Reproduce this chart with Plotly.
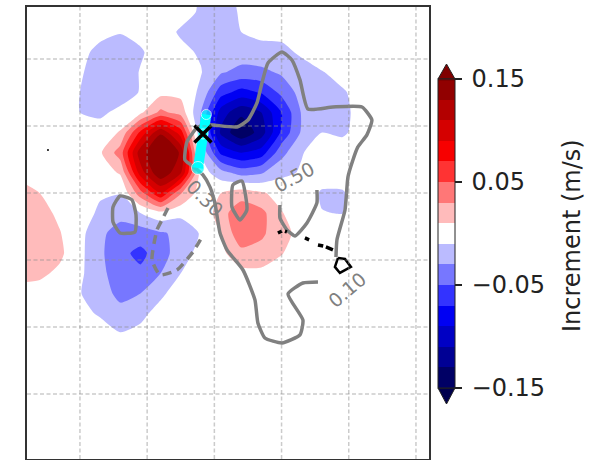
import plotly.graph_objects as go

# Model grid (degrees) for the increment field
lons = [-179.5, -178, -176.5, -175, -173.5, -172, -170.5, -169, -167.5, -166, -164.5,
        -163, -161.5, -160, -158.5, -157, -155.5, -154, -152.5, -151, -149.5, -148]
lats = [40, 38.5, 37, 35.5, 34, 32.5, 31, 29.5, 28, 26.5, 25, 23.5, 22, 20.5, 19, 17.5,
        16, 14.5, 13, 11.5, 10, 8.5, 7, 5.5, 4]

# Increment (m/s), rows follow lats, columns follow lons
increment = [
    [0, 0, 0, 0, 0, 0, 0, 0, -.002, -.012, -.018, -.005, 0, 0, 0, 0, 0, 0, 0, 0, 0, 0],
    [0, 0, 0, 0, 0, 0, 0, 0, -.004, -.012, -.018, -.008, 0, 0, 0, 0, 0, 0, 0, 0, 0, 0],
    [0, 0, 0, 0, -.005, -.009, -.005, -.003, -.012, -.02, -.019, -.01, -.005, -.005, -.001, 0, 0, 0, 0, 0, 0, 0],
    [0, 0, 0, -.005, -.015, -.019, -.012, -.002, -.006, -.012, -.017, -.02, -.017, -.015, -.007, 0, 0, 0, 0, 0, 0, 0],
    [0, 0, 0, -.008, -.018, -.02, -.009, 0, 0, -.009, -.028, -.036, -.035, -.027, -.018, -.011, -.004, 0, 0, 0, 0, 0],
    [0, 0, 0, -.01, -.02, -.018, -.009, .004, .004, -.014, -.062, -.078, -.068, -.045, -.022, -.014, -.012, -.004, 0, 0, 0, 0],
    [0, 0, 0, -.01, -.013, -.006, .006, .035, .022, -.03, -.10, -.125, -.11, -.07, -.028, -.016, -.013, -.006, 0, 0, 0, 0],
    [0, 0, 0, -.003, -.003, .012, .075, .128, .08, -.03, -.115, -.148, -.12, -.066, -.027, -.01, -.013, -.003, 0, 0, 0, 0],
    [0, 0, 0, 0, .007, .04, .122, .149, .128, -.012, -.075, -.09, -.08, -.037, -.011, -.002, 0, 0, 0, 0, 0, 0],
    [.006, 0, 0, 0, 0, .012, .1, .148, .112, 0, -.022, -.038, -.032, -.015, -.008, -.001, 0, 0, 0, 0, 0, 0],
    [.016, .01, 0, 0, -.008, -.009, .042, .09, .032, 0, .01, .02, .012, .004, 0, -.012, -.012, 0, 0, 0, 0, 0],
    [.02, .017, .006, -.002, -.013, -.022, -.01, .004, -.004, -.008, .022, .044, .036, .011, 0, -.0095, -.0105, 0, 0, 0, 0, 0],
    [.022, .02, .011, -.004, -.025, -.04, -.04, -.032, -.026, -.008, .011, .045, .034, .016, .004, 0, 0, 0, 0, 0, 0, 0],
    [.022, .02, .014, -.005, -.026, -.045, -.055, -.04, -.018, -.004, .005, .024, .022, .011, 0, 0, 0, 0, 0, 0, 0, 0],
    [.016, .014, .006, -.006, -.025, -.04, -.046, -.03, -.01, 0, 0, .004, .005, .001, 0, 0, 0, 0, 0, 0, 0, 0],
    [.003, .002, 0, -.009, -.022, -.035, -.03, -.013, -.002, 0, 0, 0, 0, 0, 0, 0, 0, 0, 0, 0, 0, 0],
    [0, 0, 0, -.005, -.012, -.024, -.014, -.004, 0, 0, 0, 0, 0, 0, 0, 0, 0, 0, 0, 0, 0, 0],
    [0, 0, 0, 0, -.002, -.009, -.006, 0, 0, 0, 0, 0, 0, 0, 0, 0, 0, 0, 0, 0, 0, 0],
] + [[0] * 22 for _ in range(7)]

# Contour lines (lon, lat)
main_lon = [-157.29, -158.41, -159.52, -158.41, -158.63, -159.97, -161.24, -161.76, -161.98, -162.87,
            -164.06, -164.58, -164.96, -165.33, -165.85, -166.44, -167.19, -167.04, -166.30, -165.70,
            -165.10, -163.32, -162.50, -161.83, -161.46, -161.01, -159.97, -159.23, -158.63, -158.04,
            -156.18, -154.02, -153.28, -153.65, -154.32, -154.69, -155.06, -155.28, -155.88, -155.95]
main_lat = [18.36, 18.28, 17.46, 15.52, 14.41, 13.81, 14.18, 15.30, 17.02, 19.25,
            20.75, 22.01, 24.25, 25.45, 26.34, 26.86, 27.46, 28.80, 29.85, 30.07,
            30.07, 29.92, 30.44, 31.71, 33.20, 34.70, 35.52, 34.92, 33.43, 31.26,
            31.41, 31.41, 30.44, 29.33, 28.43, 27.46, 26.19, 23.73, 21.49, 20.22]
loop1_lon = [-172.54, -172.02, -171.13, -170.83, -170.91, -172.02, -172.54, -172.54]
loop1_lat = [23.95, 24.77, 24.48, 23.36, 22.09, 22.01, 22.83, 23.95]
loop2_lon = [-163.62, -162.95, -162.58, -163.10, -163.69, -163.62]
loop2_lat = [25.60, 25.89, 23.73, 22.98, 23.95, 25.60]
arc_lon = [-157.37, -157.37, -158.11, -159.0, -159.60, -160.12, -160.12]
arc_lat = [25.22, 24.25, 22.76, 21.79, 22.24, 23.13, 24.10]
dash_lon = [-168.45, -168.90, -169.27, -169.64, -169.05, -167.78, -166.59, -165.92]
dash_lat = [23.88, 22.98, 22.24, 20.0, 18.88, 19.25, 20.6, 21.72]

# Hawaiian coast
big_island_lon = [-155.8, -155.28, -154.84, -155.66, -156.03, -155.8]
big_island_lat = [20.15, 20.07, 19.48, 19.03, 19.48, 20.15]
small_islands = [
    ([-160.27, -159.97], [22.01, 22.16]),
    ([-159.75, -159.6], [22.14, 22.09]),
    ([-158.26, -157.95], [21.64, 21.5]),
    ([-157.29, -156.9], [21.12, 21.04]),
    ([-156.7, -156.18], [20.97, 20.75]),
]
dot_lon, dot_lat = [-177.38], [28.2]

# Flight track and target
track_lon = [-165.6, -165.85, -166.22]
track_lat = [30.85, 29.40, 26.86]
target_lon, target_lat = [-165.85], [29.40]

# Contour labels
label_text = ["0.50", "0.10", "0.30"]
label_lon = [-159.08, -155.14, -165.7]
label_lat = [26.19, 17.76, 24.63]
label_angle = [-28, -40, 45]

grid_lons = [-175, -170, -165, -160, -155, -150]
grid_lats = [35, 30, 25, 20, 15, 10]
cbar_ticks = [-0.15, -0.05, 0.05, 0.15]
cbar_labels = ["\u2009\u22120.15", "\u2009\u22120.05", "\u20090.05", "\u20090.15"]
cbar_title = "Increment (m/s)"

seismic = [[0, "rgb(0,0,77)"], [.25, "rgb(0,0,255)"], [.5, "rgb(255,255,255)"],
           [.75, "rgb(255,0,0)"], [1, "rgb(128,0,0)"]]

FONT = "DejaVu Sans"
L, R, T, B = 27, 171, 7, 1
W, H = 600, 460

def px(x):
    return (x - L) / (W - L - R)

def py(y):
    return (H - B - y) / (H - T - B)

fig = go.Figure()
fig.add_trace(go.Contour(
    x=lons, y=lats, z=increment, zauto=False, zmin=-.15, zmax=.15, colorscale=seismic,
    contours=dict(start=-.15, end=.15, size=.02, coloring="fill", showlines=False),
    line=dict(width=0, smoothing=.6), hoverinfo="skip",
    colorbar=dict(
        x=px(438), xanchor="left", xpad=0, ypad=0, y=py(233.5), yanchor="middle",
        thickness=17, thicknessmode="pixels", len=309, lenmode="pixels",
        outlinecolor="#222", outlinewidth=1, ticks="outside", ticklen=7, tickwidth=1.5,
        tickcolor="#222", tickvals=cbar_ticks, ticktext=cbar_labels,
        tickfont=dict(family=FONT, size=24, color="#222"),
    ),
))

GRAY = "#808080"
for xs, ys in [(main_lon, main_lat), (loop1_lon, loop1_lat), (loop2_lon, loop2_lat), (arc_lon, arc_lat)]:
    fig.add_trace(go.Scatter(x=xs, y=ys, mode="lines", line=dict(color=GRAY, width=3.5, shape="spline", smoothing=.5)))
fig.add_trace(go.Scatter(x=dash_lon, y=dash_lat, mode="lines",
                         line=dict(color=GRAY, width=3.5, dash="9px,6px", shape="spline", smoothing=.5)))
fig.add_trace(go.Scatter(x=track_lon, y=track_lat, mode="lines+markers", line=dict(color="#00ffff", width=10),
                         marker=dict(color="#00ffff", size=[10, 10, 13])))
fig.add_trace(go.Scatter(x=big_island_lon, y=big_island_lat, mode="lines", line=dict(color="black", width=2.5)))
for xs, ys in small_islands:
    fig.add_trace(go.Scatter(x=xs, y=ys, mode="lines", line=dict(color="black", width=3.5)))
fig.add_trace(go.Scatter(x=dot_lon, y=dot_lat, mode="markers", marker=dict(color="black", size=2)))
fig.add_trace(go.Scatter(x=target_lon, y=target_lat, mode="markers",
                         marker=dict(symbol="x-thin", size=17, color="black", line=dict(color="black", width=3.5))))

shapes = []
GRID = dict(color="rgba(140,140,140,0.45)", width=1.5, dash="4px,2.5px")
for v in grid_lons:
    shapes.append(dict(type="line", xref="x", yref="paper", x0=v, x1=v, y0=0, y1=1, line=GRID, layer="above"))
for v in grid_lats:
    shapes.append(dict(type="line", xref="paper", yref="y", x0=0, x1=1, y0=v, y1=v, line=GRID, layer="above"))
# colour bar extension arrows
for tip, base, col in [(64, 79, "#800000"), (404, 388, "#00004d")]:
    shapes.append(dict(type="path", xref="paper", yref="paper",
                       path=f"M{px(438)},{py(base)} L{px(455)},{py(base)} L{px(446.5)},{py(tip)} Z",
                       fillcolor=col, line=dict(color="#222", width=1), layer="above"))

annotations = [dict(x=a, y=b, text=t, textangle=g, showarrow=False,
                    font=dict(family=FONT, size=19, color=GRAY))
               for a, b, t, g in zip(label_lon, label_lat, label_text, label_angle)]
annotations.append(dict(x=px(572), y=py(236), xref="paper", yref="paper", xanchor="center", yanchor="middle",
                        text=cbar_title, textangle=-90, showarrow=False,
                        font=dict(family=FONT, size=24, color="#222")))

axis = dict(showgrid=False, zeroline=False, showticklabels=False, ticks="", showline=True,
            mirror=True, linecolor="#333", linewidth=2)
fig.update_layout(
    width=W, height=H, margin=dict(l=L, r=R, t=T, b=B), showlegend=False,
    paper_bgcolor="white", plot_bgcolor="white", shapes=shapes, annotations=annotations,
    xaxis=dict(range=[-178.94, -149.03], **axis),
    yaxis=dict(range=[5.15, 38.87], **axis),
)
fig.write_html("out.html", post_script="document.body.style.margin='0';",
               config=dict(displayModeBar=False))
